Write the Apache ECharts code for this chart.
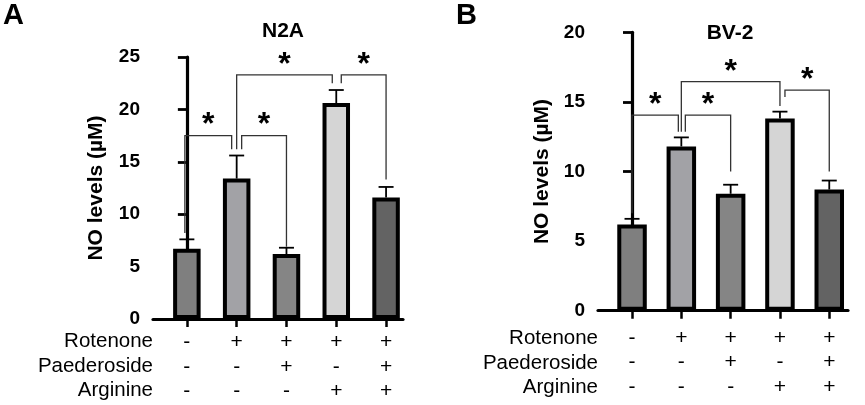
<!DOCTYPE html>
<html>
<head>
<meta charset="utf-8">
<script src="https://cdn.jsdelivr.net/npm/echarts@6/dist/echarts.min.js"></script>
<style>
html,body{margin:0;padding:0;background:#fff;}
#chart{width:865px;height:405px;}
</style>
</head>
<body>
<div id="chart"></div>
<script>
// ---------- data ----------
const rowNames = ['Rotenone', 'Paederoside', 'Arginine'];
const rotenone = ['-', '+', '+', '+', '+'];
const paederoside = ['-', '-', '+', '-', '+'];
const arginine = ['-', '-', '-', '+', '+'];

const n2aMean = [6.7, 13.4, 6.2, 20.6, 11.6];
const n2aErr = [0.9, 2.2, 0.6, 1.25, 1.0];
const bv2Mean = [6.2, 11.8, 8.4, 13.8, 8.7];
const bv2Err = [0.4, 0.65, 0.65, 0.5, 0.65];

const n2aTitle = 'N2A';
const bv2Title = 'BV-2';
const yName = 'NO levels (µM)';
const n2aYMax = 25;
const bv2YMax = 20;
const yInterval = 5;

// brackets: [fromIndex, toIndex, topValue, leftLegEnd, rightLegEnd]
const n2aBrackets = [[0, 1, 17.5, 8.2, 16.2], [1, 2, 17.5, 16.2, 6.9], [1, 3, 23.3, 16.2, 22.5], [3, 4, 23.3, 22.5, 13.3]];
const bv2Brackets = [[0, 1, 14.05, 7.0, 12.85], [1, 2, 14.05, 12.85, 10.0], [1, 3, 16.45, 12.85, 14.7], [3, 4, 15.85, 15.35, 10.0]];
const sigMark = '*';

// ---------- styles ----------
const barColors = ['#7f7f7f', '#a2a2a6', '#858585', '#d5d5d5', '#636363'];
const n2aLegOffsets = [[-2, -5], [5, 0], [0, -4], [5, 0]];
const bv2LegOffsets = [[0, -3], [4, 0], [0, 0], [5, 0]];
const FONT = 'Liberation Sans, Arial, sans-serif';

const chart = echarts.init(document.getElementById('chart'));

function xAxisCfg(gridIndex, min, max, margin) {
  return {
    type: 'value', gridIndex, min, max,
    splitLine: { show: false },
    axisLine: { lineStyle: { color: '#000', width: 3.2 } },
    axisTick: { show: true, customValues: [0, 1, 2, 3, 4], length: 8, lineStyle: { color: '#000', width: 2.5 } },
    axisLabel: {
      customValues: [0, 1, 2, 3, 4],
      margin: margin,
      fontFamily: FONT, fontSize: 21, color: '#000', lineHeight: 24.5,
      formatter: v => { const i = Math.round(v); return rotenone[i] + '\n' + paederoside[i] + '\n' + arginine[i]; }
    }
  };
}
function yAxisCfg(gridIndex, max, nameGap) {
  return {
    type: 'value', gridIndex, min: 0, max, interval: yInterval,
    name: yName, nameLocation: 'middle', nameGap,
    nameTextStyle: { fontFamily: FONT, fontWeight: 'bold', fontSize: 21, color: '#000' },
    splitLine: { show: false },
    axisLine: { show: true, lineStyle: { color: '#000', width: 3.2 } },
    axisTick: { show: true, length: 9, lineStyle: { color: '#000', width: 2.8 } },
    axisLabel: { margin: 13, fontFamily: FONT, fontWeight: 'bold', fontSize: 19, color: '#000' }
  };
}
function barSeries(idx, means, width) {
  return {
    type: 'bar', xAxisIndex: idx, yAxisIndex: idx, barWidth: width, z: 3,
    data: means.map((v, i) => ({ value: [i, v], itemStyle: { color: barColors[i] } })),
    itemStyle: { borderColor: '#000', borderWidth: 4 }
  };
}
function errSeries(idx, means, errs) {
  return {
    type: 'custom', xAxisIndex: idx, yAxisIndex: idx, z: 2,
    data: means.map((v, i) => [i, v, v + errs[i]]),
    encode: { x: 0, y: [1, 2] },
    renderItem: (params, api) => {
      const p0 = api.coord([api.value(0), api.value(1)]);
      const p1 = api.coord([api.value(0), api.value(2)]);
      const cw = 7.5;
      return {
        type: 'group', children: [
          { type: 'line', shape: { x1: p0[0], y1: p0[1], x2: p1[0], y2: p1[1] }, style: { stroke: '#000', lineWidth: 1.8 } },
          { type: 'line', shape: { x1: p1[0] - cw, y1: p1[1], x2: p1[0] + cw, y2: p1[1] }, style: { stroke: '#000', lineWidth: 1.8 } }
        ]
      };
    }
  };
}
function bracketSeries(idx, brackets, offsets) {
  return {
    type: 'custom', xAxisIndex: idx, yAxisIndex: idx, z: 4,
    data: brackets,
    encode: { x: [0, 1], y: [2, 3, 4] },
    renderItem: (params, api) => {
      const off = offsets[params.dataIndex];
      const a = api.coord([api.value(0), api.value(2)]);
      const b = api.coord([api.value(1), api.value(2)]);
      const la = api.coord([api.value(0), api.value(3)]);
      const rb = api.coord([api.value(1), api.value(4)]);
      const xl = a[0] + off[0], xr = b[0] + off[1];
      return {
        type: 'group', children: [
          { type: 'polyline', shape: { points: [[xl, la[1]], [xl, a[1]], [xr, a[1]], [xr, rb[1]]] }, style: { stroke: '#333', lineWidth: 1.3, fill: 'none' } },
          { type: 'text', style: { text: sigMark, x: (xl + xr) / 2, y: a[1] - 10, align: 'center', verticalAlign: 'middle', font: 'bold 32px ' + FONT, fill: '#000' } }
        ]
      };
    }
  };
}

function txt(text, x, y, size, weight, align) {
  return { type: 'text', x, y, style: { text, font: weight + ' ' + size + 'px ' + FONT, fill: '#000', align, verticalAlign: 'middle' } };
}

const graphics = [
  txt('A', 3, 16, 29, 'bold', 'left'),
  txt('B', 456, 16, 29, 'bold', 'left'),
  txt(n2aTitle, 283, 31, 21, 'bold', 'center'),
  txt(bv2Title, 730, 33, 21, 'bold', 'center')
];
const leftRowY = [341.7, 366, 390.3];
const rightRowY = [338.3, 363, 387.3];
rowNames.forEach((n, i) => {
  graphics.push(txt(n, 153, leftRowY[i], 20.5, 'normal', 'right'));
  graphics.push(txt(n, 598, rightRowY[i], 20.5, 'normal', 'right'));
});

chart.setOption({
  animation: false,
  grid: [
    { left: 153, top: 57, width: 250, height: 262 },
    { left: 598, top: 32.3, width: 250, height: 278.4 }
  ],
  xAxis: [xAxisCfg(0, -0.68, 4.34, 11), xAxisCfg(1, -0.69, 4.38, 15)],
  yAxis: [yAxisCfg(0, n2aYMax, 46), yAxisCfg(1, bv2YMax, 45)],
  series: [
    errSeries(0, n2aMean, n2aErr),
    barSeries(0, n2aMean, 27.5),
    bracketSeries(0, n2aBrackets, n2aLegOffsets),
    errSeries(1, bv2Mean, bv2Err),
    barSeries(1, bv2Mean, 29.5),
    bracketSeries(1, bv2Brackets, bv2LegOffsets)
  ],
  graphic: graphics
});
</script>
</body>
</html>
